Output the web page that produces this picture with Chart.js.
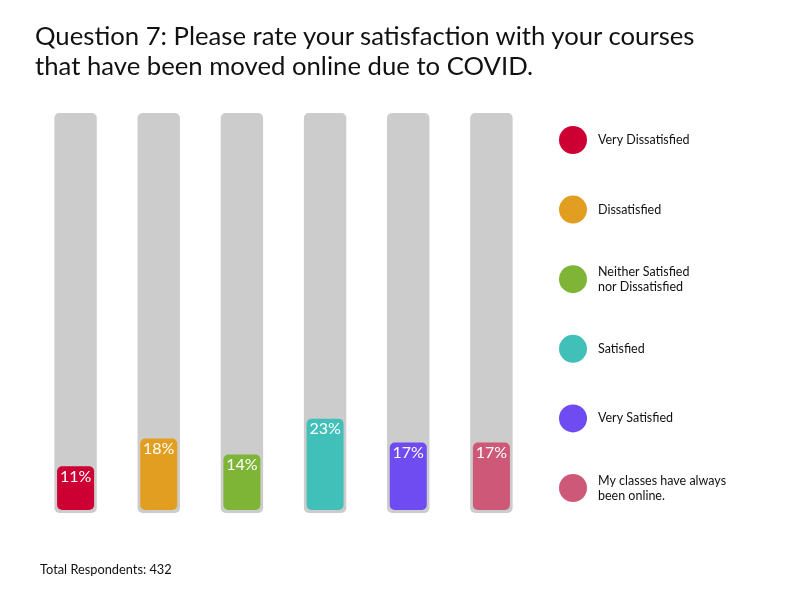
<!DOCTYPE html>
<html>
<head>
<meta charset="utf-8">
<script src="https://cdn.jsdelivr.net/npm/chart.js@4.4.0/dist/chart.umd.min.js"></script>
<style>
  body { margin: 0; background: #fff; }
  #wrap { position: relative; width: 792px; height: 612px; }
  #myChart { position: absolute; left: 0; top: 0; }
  .title { position: absolute; left: 35px; top: 20px; font-family: Lato, sans-serif; font-size: 25.7px; line-height: 30px; color: #111; }
  .foot { position: absolute; left: 40px; top: 561px; font-family: Lato, sans-serif; font-size: 12.8px; color: #111; }
</style>
</head>
<body>
<div id="wrap">
  <canvas id="myChart" width="792" height="612"></canvas>
  <div class="title">Question 7: Please rate your satisfaction with your courses<br>that have been moved online due to COVID.</div>
  <div class="foot">Total Respondents: 432</div>
</div>
<script>
// answers and their share of respondents (%)
var labels = [
    'Very Dissatisfied',
    'Dissatisfied',
    ['Neither Satisfied', 'nor Dissatisfied'],
    'Satisfied',
    'Very Satisfied',
    ['My classes have always', 'been online.']
];
var data = [11, 18, 14, 23, 17, 17];
var track = [100, 100, 100, 100, 100, 100];
var colors = ['#cc0033', '#e29e20', '#7eb537', '#41bfb9', '#6f4bf2', '#ce5877'];

// white % text on top of each bar
var valueLabels = {
    id: 'valueLabels',
    afterDatasetsDraw: function (chart) {
        var ctx = chart.ctx;
        var meta = chart.getDatasetMeta(0);
        ctx.save();
        ctx.fillStyle = '#fff';
        ctx.font = '16px Lato';
        ctx.textAlign = 'center';
        ctx.textBaseline = 'top';
        meta.data.forEach(function (bar, i) {
            ctx.fillText(data[i] + '%', bar.x, bar.y + 2);
        });
        ctx.restore();
    }
};

// legend with round markers on the right
var sideLegend = {
    id: 'sideLegend',
    afterDraw: function (chart) {
        var ctx = chart.ctx;
        var x = chart.chartArea.right + 40;
        ctx.save();
        ctx.font = '12.5px Lato';
        ctx.textBaseline = 'middle';
        for (let i = 0; i < labels.length; i++) {
            var y = 140 + i * 69.6;
            ctx.fillStyle = colors[i];
            ctx.beginPath();
            ctx.arc(x, y, 14, 0, Math.PI * 2);
            ctx.fill();
            ctx.fillStyle = '#111';
            var lines = Array.isArray(labels[i]) ? labels[i] : [labels[i]];
            var y0 = y - (lines.length - 1) * 7.5;
            lines.forEach(function (t, j) {
                ctx.fillText(t, x + 25, y0 + j * 15);
            });
        }
        ctx.restore();
    }
};

const ctx = document.getElementById('myChart');
new Chart(ctx, {
    type: 'bar',
    data: {
        labels: labels,
        datasets: [{
            data: data,
            backgroundColor: colors,
            grouped: false,
            categoryPercentage: 1,
            barPercentage: 0.445,
            borderRadius: 5,
            borderSkipped: false
        }, {
            data: track,
            backgroundColor: '#cccccc',
            grouped: false,
            base: -0.75,
            categoryPercentage: 1,
            barPercentage: 0.51,
            borderRadius: 5,
            borderSkipped: false
        }]
    },
    options: {
        responsive: false,
        animation: false,
        layout: { padding: { left: 34, right: 259, top: 113, bottom: 99 } },
        plugins: { legend: { display: false }, tooltip: { enabled: false } },
        scales: {
            x: { display: false },
            y: { display: false, min: -0.75, max: 100 }
        }
    },
    plugins: [valueLabels, sideLegend]
});
</script>
</body>
</html>
